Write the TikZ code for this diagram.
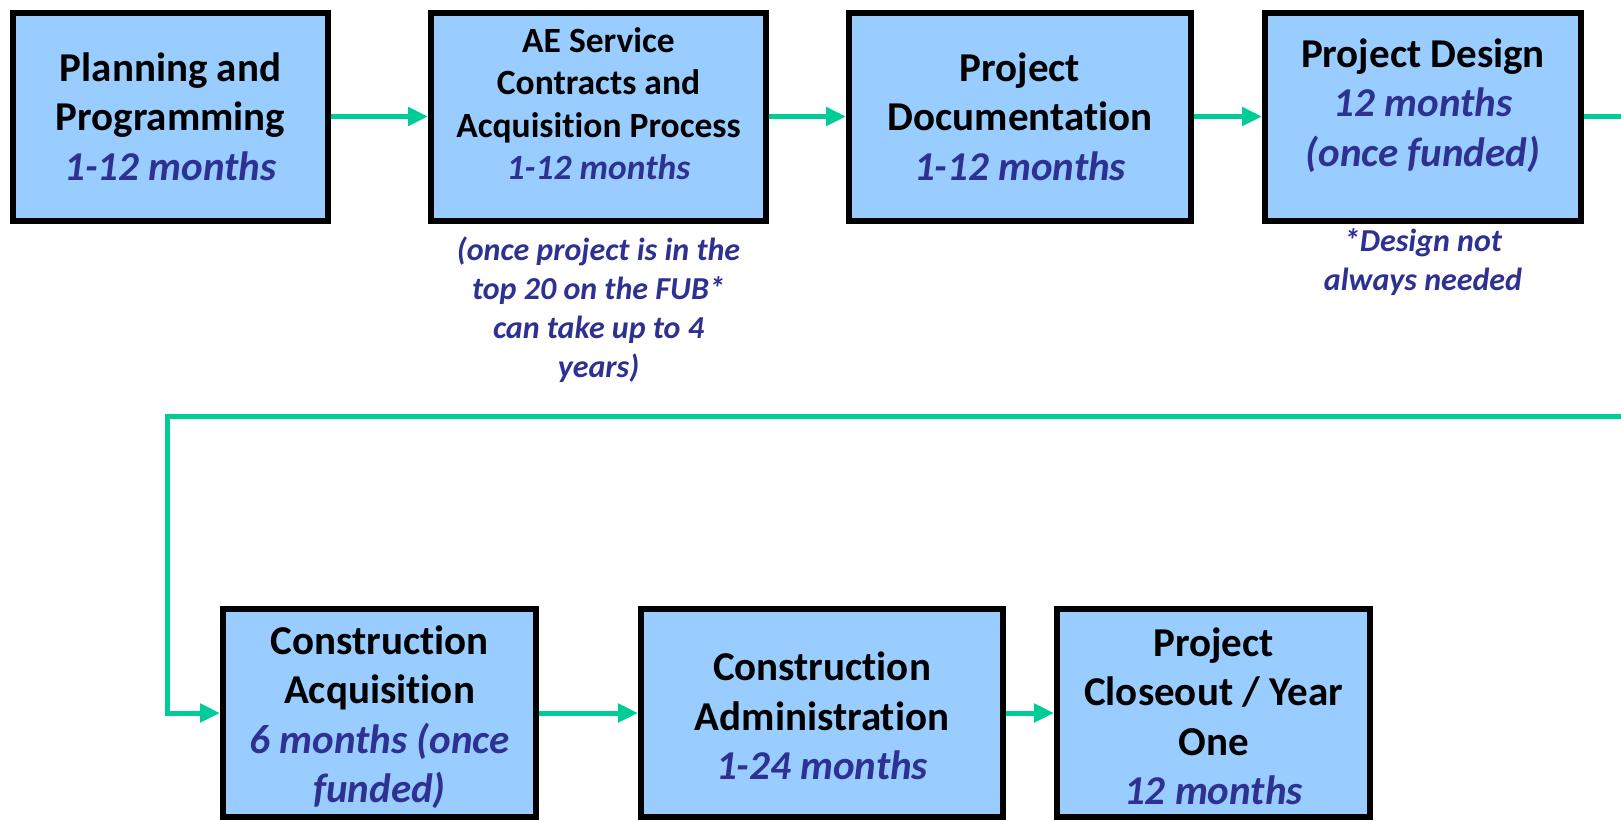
\documentclass[tikz,border=0pt]{standalone}
\usepackage{fontspec}
\setmainfont[Ligatures={NoCommon,NoRare,NoContextual}]{Carlito}
\usetikzlibrary{arrows.meta}
\definecolor{boxblue}{RGB}{153,204,255}
\definecolor{durblue}{RGB}{46,49,146}
\definecolor{conngreen}{RGB}{0,204,153}
\tikzset{
  stagebox/.style={draw=black, line width=6pt, fill=boxblue, minimum height=208pt, inner sep=0pt, outer sep=3pt},
  bigtxt/.style={font=\fontsize{41}{49.5}\selectfont\bfseries, align=center, text=black, inner sep=0pt},
  midtxt/.style={font=\fontsize{35.5}{42.5}\selectfont\bfseries, align=center, text=black, inner sep=0pt},
  notetxt/.style={font=\fontsize{32}{39}\selectfont\bfseries\itshape, align=center, text=durblue, inner sep=0pt},
  conn/.style={draw=conngreen, line width=5pt, -{Triangle[length=20pt,width=18pt]}},
}
\newcommand{\dur}[1]{{\color{durblue}\itshape #1}}
\begin{document}
\begin{tikzpicture}[x=1pt,y=-1pt]
\clip (0,0) rectangle (1621,820);
\useasboundingbox (0,0) rectangle (1621,820);
% row 1
\node[stagebox, minimum width=315pt] (b1) at (170.5,116.5) {};
\node[stagebox, minimum width=335pt] (b2) at (598.5,116.5) {};
\node[stagebox, minimum width=342pt] (b3) at (1020,116.5) {};
\node[stagebox, minimum width=316pt] (b4) at (1423,116.5) {};
\node[bigtxt] (t1) at (b1.center) {Planning and\\Programming\\\dur{1-12 months}};
\node[midtxt] (t2) at ([yshift=13pt]b2.center) {AE Service\\Contracts and\\Acquisition Process\\\dur{1-12 months}};
\node[bigtxt] (t3) at (b3.center) {Project\\Documentation\\\dur{1-12 months}};
\node[bigtxt] (t4) at ([yshift=11pt]b4.center) {Project Design\\\dur{12 months}\\\dur{(once funded)}};
\node[notetxt] (n2) at (598.5,310) {(once project is in the\\top 20 on the FUB*\\can take up to 4\\years)};
\node[notetxt] (n4) at (1423,262) {*Design not\\always needed};
% row 2
\node[stagebox, minimum width=313pt] (b5) at (379.5,713) {};
\node[stagebox, minimum width=362pt] (b6) at (822,713) {};
\node[stagebox, minimum width=313pt] (b7) at (1213.5,713) {};
\node[bigtxt] (t5) at ([yshift=-4pt]b5.center) {Construction\\Acquisition\\\dur{6 months (once}\\\dur{funded)}};
\node[bigtxt] (t6) at ([yshift=-3pt]b6.center) {Construction\\Administration\\\dur{1-24 months}};
\node[bigtxt] (t7) at ([yshift=-3pt]b7.center) {Project\\Closeout / Year\\One\\\dur{12 months}};
% connectors
\coordinate (rt) at (1650,416);
\coordinate (lt) at (167,416);
\draw[conn] (b1) -- (b2);
\draw[conn] (b2) -- (b3);
\draw[conn] (b3) -- (b4);
\draw[conn] (b4.east) -| (rt) -- (lt) |- (b5.west);
\draw[conn] (b5) -- (b6);
\draw[conn] (b6) -- (b7);
\end{tikzpicture}
\end{document}
